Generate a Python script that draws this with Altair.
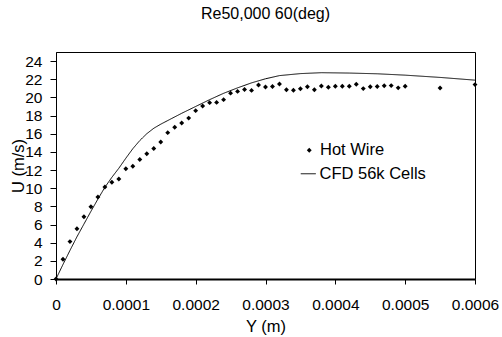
import altair as alt
import pandas as pd

# Hot wire measurements
hw_y = [0, 0.00001, 0.00002, 0.00003, 0.00004, 0.00005, 0.00006, 0.00007, 0.00008, 0.00009,
        0.0001, 0.00011, 0.00012, 0.00013, 0.00014, 0.00015, 0.00016, 0.00017, 0.00018, 0.00019,
        0.0002, 0.00021, 0.00022, 0.00023, 0.00024, 0.00025, 0.00026, 0.00027, 0.00028, 0.00029,
        0.0003, 0.00031, 0.00032, 0.00033, 0.00034, 0.00035, 0.00036, 0.00037, 0.00038, 0.00039,
        0.0004, 0.00041, 0.00042, 0.00043, 0.00044, 0.00045, 0.00046, 0.00047, 0.00048, 0.00049,
        0.0005, 0.00055, 0.0006]
hw_u = [0, 2.18, 4.12, 5.54, 6.85, 7.95, 9.03, 10.13, 10.65, 11.02,
        12.15, 12.42, 13.16, 13.8, 14.38, 15.08, 16.12, 16.72, 17.18, 17.72,
        18.54, 19.05, 19.42, 19.45, 19.75, 20.47, 20.66, 20.87, 20.77, 21.36,
        21.14, 21.2, 21.47, 20.84, 20.78, 20.96, 21.18, 20.84, 21.26, 21.12,
        21.22, 21.22, 21.22, 21.45, 20.97, 21.18, 21.2, 21.28, 21.3, 21.05,
        21.22, 21.04, 21.41]

# CFD profile
cfd_y = [0, 0.00001, 0.00002, 0.00003, 0.00004, 0.00005, 0.00006, 0.00007, 0.00008, 0.00009,
         0.0001, 0.00011, 0.00012, 0.00013, 0.00014, 0.00015, 0.00016, 0.00017, 0.00018,
         0.0002, 0.00022, 0.00024, 0.00026, 0.00028, 0.0003, 0.00032, 0.00035, 0.00038,
         0.00042, 0.00046, 0.0005, 0.00055, 0.0006]
cfd_u = [0, 1.6, 3.15, 4.65, 6.05, 7.45, 8.8, 10.1, 11.2, 12.2,
         13.3, 14.35, 15.25, 16.0, 16.6, 17.05, 17.45, 17.85, 18.25,
         19.0, 19.75, 20.45, 21.05, 21.6, 22.05, 22.4, 22.62, 22.72,
         22.68, 22.6, 22.45, 22.2, 21.9]

series_names = ["Hot Wire", "CFD 56k Cells"]
x_ticks = [0, 0.0001, 0.0002, 0.0003, 0.0004, 0.0005, 0.0006]
y_ticks = [0, 2, 4, 6, 8, 10, 12, 14, 16, 18, 20, 22, 24]

hw = pd.DataFrame({"Y": hw_y, "U": hw_u, "hw_series": series_names[0]})
cfd = pd.DataFrame({"Y": cfd_y, "U": cfd_u, "cfd_series": series_names[1]})

FONT = "Liberation Sans"

xs = alt.Scale(domain=[0, 0.0006], nice=False, zero=False)
ys = alt.Scale(domain=[0, 25], nice=False)

xax = alt.Axis(values=x_ticks, tickCount=len(x_ticks), title="Y (m)", grid=False, labelOverlap=False,
               labelExpr="datum.value == 0 ? '0' : format(datum.value, '.4f')",
               labelFont=FONT, labelFontSize=15.5, labelColor="black",
               labelPadding=13, tickSize=5, tickColor="black",
               domainColor="black", domainWidth=2, labelFlush=False,
               titleFont=FONT, titleFontSize=16.5, titleFontWeight="normal", titleColor="black",
               titleX=209.5, titleY=52, titleBaseline="alphabetic", titleAlign="center")
yax = alt.Axis(values=y_ticks, tickCount=len(y_ticks), title="U (m/s)", grid=False, labelOverlap=False,
               labelFont=FONT, labelFontSize=15.5, labelColor="black",
               labelPadding=8, tickSize=6, tickColor="black",
               domainColor="black", domainWidth=1,
               titleFont=FONT, titleFontSize=16.5, titleFontWeight="normal", titleColor="black",
               titleX=-38, titleY=113.5, titleAngle=-90, titleBaseline="middle", titleAlign="center")

points = alt.Chart(hw).mark_point(filled=True, color="black", opacity=1, size=24).encode(
    x=alt.X("Y:Q", scale=xs, axis=xax),
    y=alt.Y("U:Q", scale=ys, axis=yax),
    shape=alt.Shape("hw_series:N",
                    scale=alt.Scale(domain=[series_names[0]], range=["diamond"]),
                    legend=alt.Legend(title=None, orient="none", legendX=245, legendY=90,
                                      labelFont=FONT, labelFontSize=16.5, labelColor="black",
                                      labelOffset=2.5, symbolSize=24, symbolFillColor="black",
                                      symbolStrokeWidth=0, padding=0)),
)

line = alt.Chart(cfd).mark_line(color="black", strokeWidth=1).encode(
    x=alt.X("Y:Q", scale=xs, axis=xax),
    y=alt.Y("U:Q", scale=ys, axis=yax),
    strokeDash=alt.StrokeDash("cfd_series:N",
                              scale=alt.Scale(domain=[series_names[1]], range=[[1, 0]]),
                              legend=alt.Legend(title=None, orient="none", legendX=244, legendY=113.5,
                                                labelFont=FONT, labelFontSize=16.5, labelColor="black",
                                                labelOffset=3, symbolType="stroke", symbolSize=225,
                                                symbolStrokeColor="black", symbolStrokeWidth=1,
                                                padding=0)),
)

chart = alt.layer(line, points).properties(
    width=419, height=227,
    title=alt.TitleParams("Re50,000 60(deg)", font=FONT, fontSize=16, fontWeight="normal",
                          color="black", anchor="middle", offset=30),
    autosize=alt.AutoSizeParams(type="none"),
    padding={"left": 56, "top": 52, "right": 27, "bottom": 58},
    background="white",
).configure_view(stroke="black", strokeWidth=1)

chart.save("out.html", embed_options={"renderer": "svg", "actions": False})
